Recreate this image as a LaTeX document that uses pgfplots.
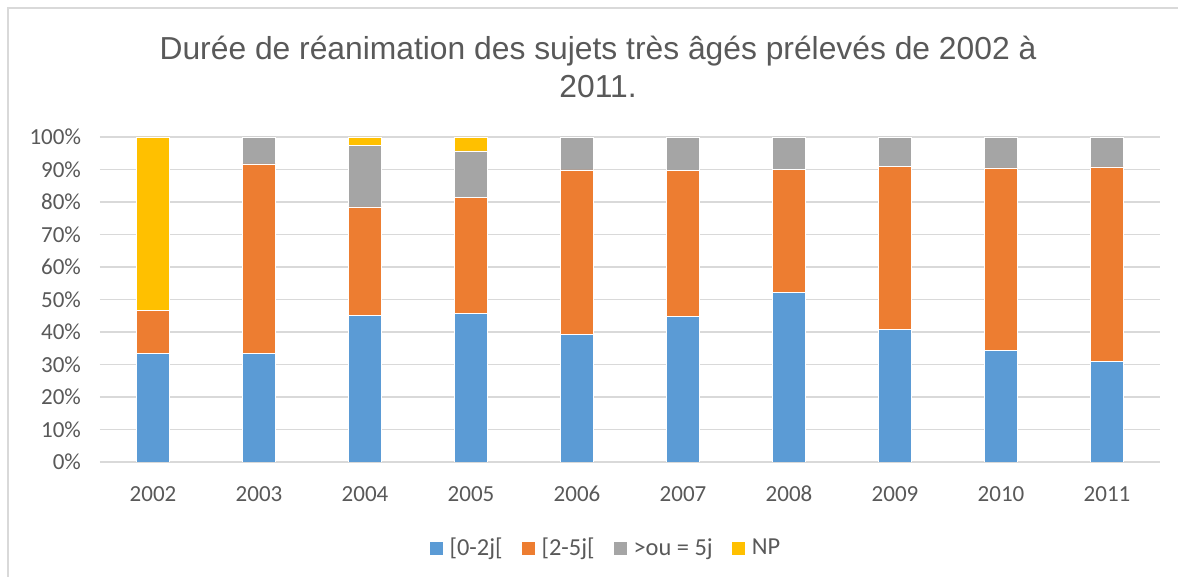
\documentclass[border=0pt]{standalone}
\usepackage{pgfplots}
\pgfplotsset{compat=1.18}
\usepackage{pgfplotstable}
\usepackage{fontspec}
\setmainfont{Carlito}
\newfontfamily\titlefont{Liberation Sans}
\definecolor{cblue}{HTML}{5B9BD5}
\definecolor{corange}{HTML}{ED7D31}
\definecolor{cgray}{HTML}{A5A5A5}
\definecolor{cyellow}{HTML}{FFC000}
\definecolor{ctext}{HTML}{595959}
\definecolor{cgrid}{HTML}{D9D9D9}
\pgfplotstableread{
x  a     b     c     d
0  33.3  13.3  0.0   53.4
1  33.3  58.4  8.3   0.0
2  45.2  33.3  19.0  2.5
3  45.7  35.7  14.3  4.3
4  39.3  50.6  10.1  0.0
5  44.7  44.9  10.4  0.0
6  52.1  38.0  9.9   0.0
7  40.8  50.2  9.0   0.0
8  34.4  56.1  9.5   0.0
9  31.0  59.8  9.2   0.0
}\datatable
\begin{document}
\begin{tikzpicture}
\useasboundingbox (0,0) rectangle (589pt,288.5pt);
\fill[white] (0,0) rectangle (589pt,288.5pt);
\draw[cgrid, line width=0.8pt] (4pt,-5pt) -- (4pt,284.5pt) -- (600pt,284.5pt);
\node[anchor=base, font=\titlefont\fontsize{15.9}{19}\selectfont, text=ctext] at (299pt,258.5pt) {Durée de réanimation des sujets très âgés prélevés de 2002 à};
\node[anchor=base, font=\titlefont\fontsize{15.9}{19}\selectfont, text=ctext] at (299pt,239.5pt) {2011.};
\begin{axis}[
  at={(50pt,57.5pt)}, anchor=south west,
  scale only axis, width=530pt, height=162.5pt,
  ybar stacked, bar width=16.5pt,
  xmin=-0.5, xmax=9.5, ymin=0, ymax=100,
  xtick=data,
  xticklabels={2002,2003,2004,2005,2006,2007,2008,2009,2010,2011},
  ytick={0,10,...,100},
  yticklabel={\pgfmathprintnumber{\tick}\%},
  /pgf/number format/assume math mode=true,
  ymajorgrids, grid style={cgrid, line width=0.8pt},
  axis line style={draw=none},
  major tick length=0pt,
  tick label style={font=\fontsize{11.5}{13.8}\selectfont, text=ctext},
  xticklabel style={yshift=-8pt, text height=8pt, text depth=1pt},
  yticklabel style={xshift=-6pt},
  legend columns=4,
  legend style={at={(0.476,-0.2655)}, anchor=center, draw=none, fill=none,
    font=\fontsize{12.2}{14.6}\selectfont, text=ctext,
    nodes={inner sep=0pt},
    /tikz/every odd column/.append style={column sep=3.2pt},
    /tikz/every even column/.append style={column sep=9.2pt}},
  legend image code/.code={\fill[#1] (0pt,-3.4pt) rectangle (6.8pt,3.4pt);},
]
\addplot[fill=cblue, draw=white, line width=0.3pt] table[x=x,y=a] {\datatable};
\addlegendentry{{[}0-2j{[}}
\addplot[fill=corange, draw=white, line width=0.3pt] table[x=x,y=b] {\datatable};
\addlegendentry{{[}2-5j{[}}
\addplot[fill=cgray, draw=white, line width=0.3pt] table[x=x,y=c] {\datatable};
\addlegendentry{{>}ou = 5j}
\addplot[fill=cyellow, draw=white, line width=0.3pt] table[x=x,y=d] {\datatable};
\addlegendentry{NP}
\end{axis}
\end{tikzpicture}
\end{document}
